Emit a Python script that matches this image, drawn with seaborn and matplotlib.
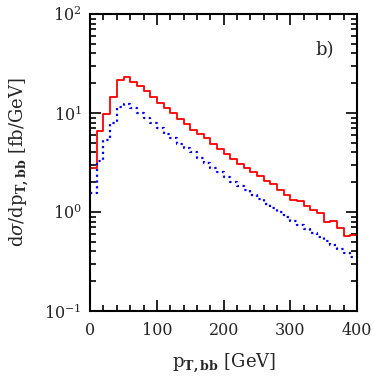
import numpy as np
import matplotlib
matplotlib.use("Agg")
import matplotlib.pyplot as plt
import seaborn as sns
from matplotlib.ticker import MultipleLocator, LogLocator, FixedLocator

# bin edges (GeV) and bin contents
edges = list(range(0, 410, 10))
red_vals = [2.8, 6.6, 9.7, 14.4, 21.5, 22.9, 20.7, 18.7, 16.7, 14.6,
            12.7, 11.3, 10.1, 8.8, 7.7, 6.8, 6.1, 5.6, 4.9, 4.3,
            3.85, 3.4, 3.05, 2.8, 2.55, 2.33, 2.07, 1.9, 1.67, 1.49,
            1.32, 1.3, 1.16, 1.05, 0.98, 0.80, 0.81, 0.69, 0.575, 0.59]
blue_vals = [1.55, 3.3, 5.3, 8.0, 11.4, 12.2, 11.3, 10.1, 9.0, 7.9,
             7.0, 6.2, 5.6, 4.9, 4.4, 4.0, 3.5, 3.1, 2.76, 2.55,
             2.27, 2.0, 1.84, 1.67, 1.49, 1.35, 1.22, 1.1, 1.0, 0.90,
             0.82, 0.74, 0.67, 0.61, 0.555, 0.51, 0.46, 0.42, 0.39, 0.35]
xticks = [0, 100, 200, 300, 400]
yticks = [0.1, 1, 10, 100]
ytick_labels = [r'$10^{-1}$', r'$10^{0}$', r'$10^{1}$', r'$10^{2}$']

centers = [e + 5 for e in edges[:-1]]

sns.set_style("ticks")
plt.rcParams['font.family'] = ['DejaVu Serif']
plt.rcParams['mathtext.fontset'] = 'dejavuserif'

fig = plt.figure(figsize=(3.74, 3.78), dpi=100)
ax = fig.add_axes([0.241, 0.177, 0.714, 0.786])

sns.histplot(x=centers, weights=red_vals, bins=edges, element="step", fill=False,
             color="#ff0000", linewidth=1.3, ax=ax)
sns.histplot(x=centers, weights=blue_vals, bins=edges, element="step", fill=False,
             color="#0000ff", linewidth=1.6, linestyle=(0, (1.0, 1.6)), ax=ax)

ax.set_yscale("log")
ax.set_xlim(0, 400)
ax.set_ylim(0.1, 100)
ax.xaxis.set_major_locator(FixedLocator(xticks))
ax.xaxis.set_minor_locator(MultipleLocator(20))
ax.yaxis.set_major_locator(FixedLocator(yticks))
ax.yaxis.set_minor_locator(LogLocator(base=10, subs=np.arange(2, 10), numticks=20))
ax.set_yticklabels(ytick_labels)
ax.set_xticks(xticks)
ax.set_xticklabels([str(t) for t in xticks])

for s in ax.spines.values():
    s.set_linewidth(1.5)
    s.set_color("black")
ax.tick_params(which="both", direction="in", top=True, right=True, labelsize=11.5,
               color="black", width=1.2)
ax.tick_params(which="major", length=8)
ax.tick_params(which="minor", length=4)
ax.tick_params(axis="x", pad=8)
ax.tick_params(axis="y", pad=6)

ax.set_xlabel(r'p$_{\mathbf{T,bb}}$ [GeV]', fontsize=13, labelpad=9)
ax.set_ylabel(r'd$\sigma$/dp$_{\mathbf{T,bb}}$ [fb/GeV]', fontsize=13, labelpad=10)
ax.text(0.88, 0.88, "b)", transform=ax.transAxes, fontsize=13, ha="center", va="center")

fig.savefig("out.png", dpi=100)
